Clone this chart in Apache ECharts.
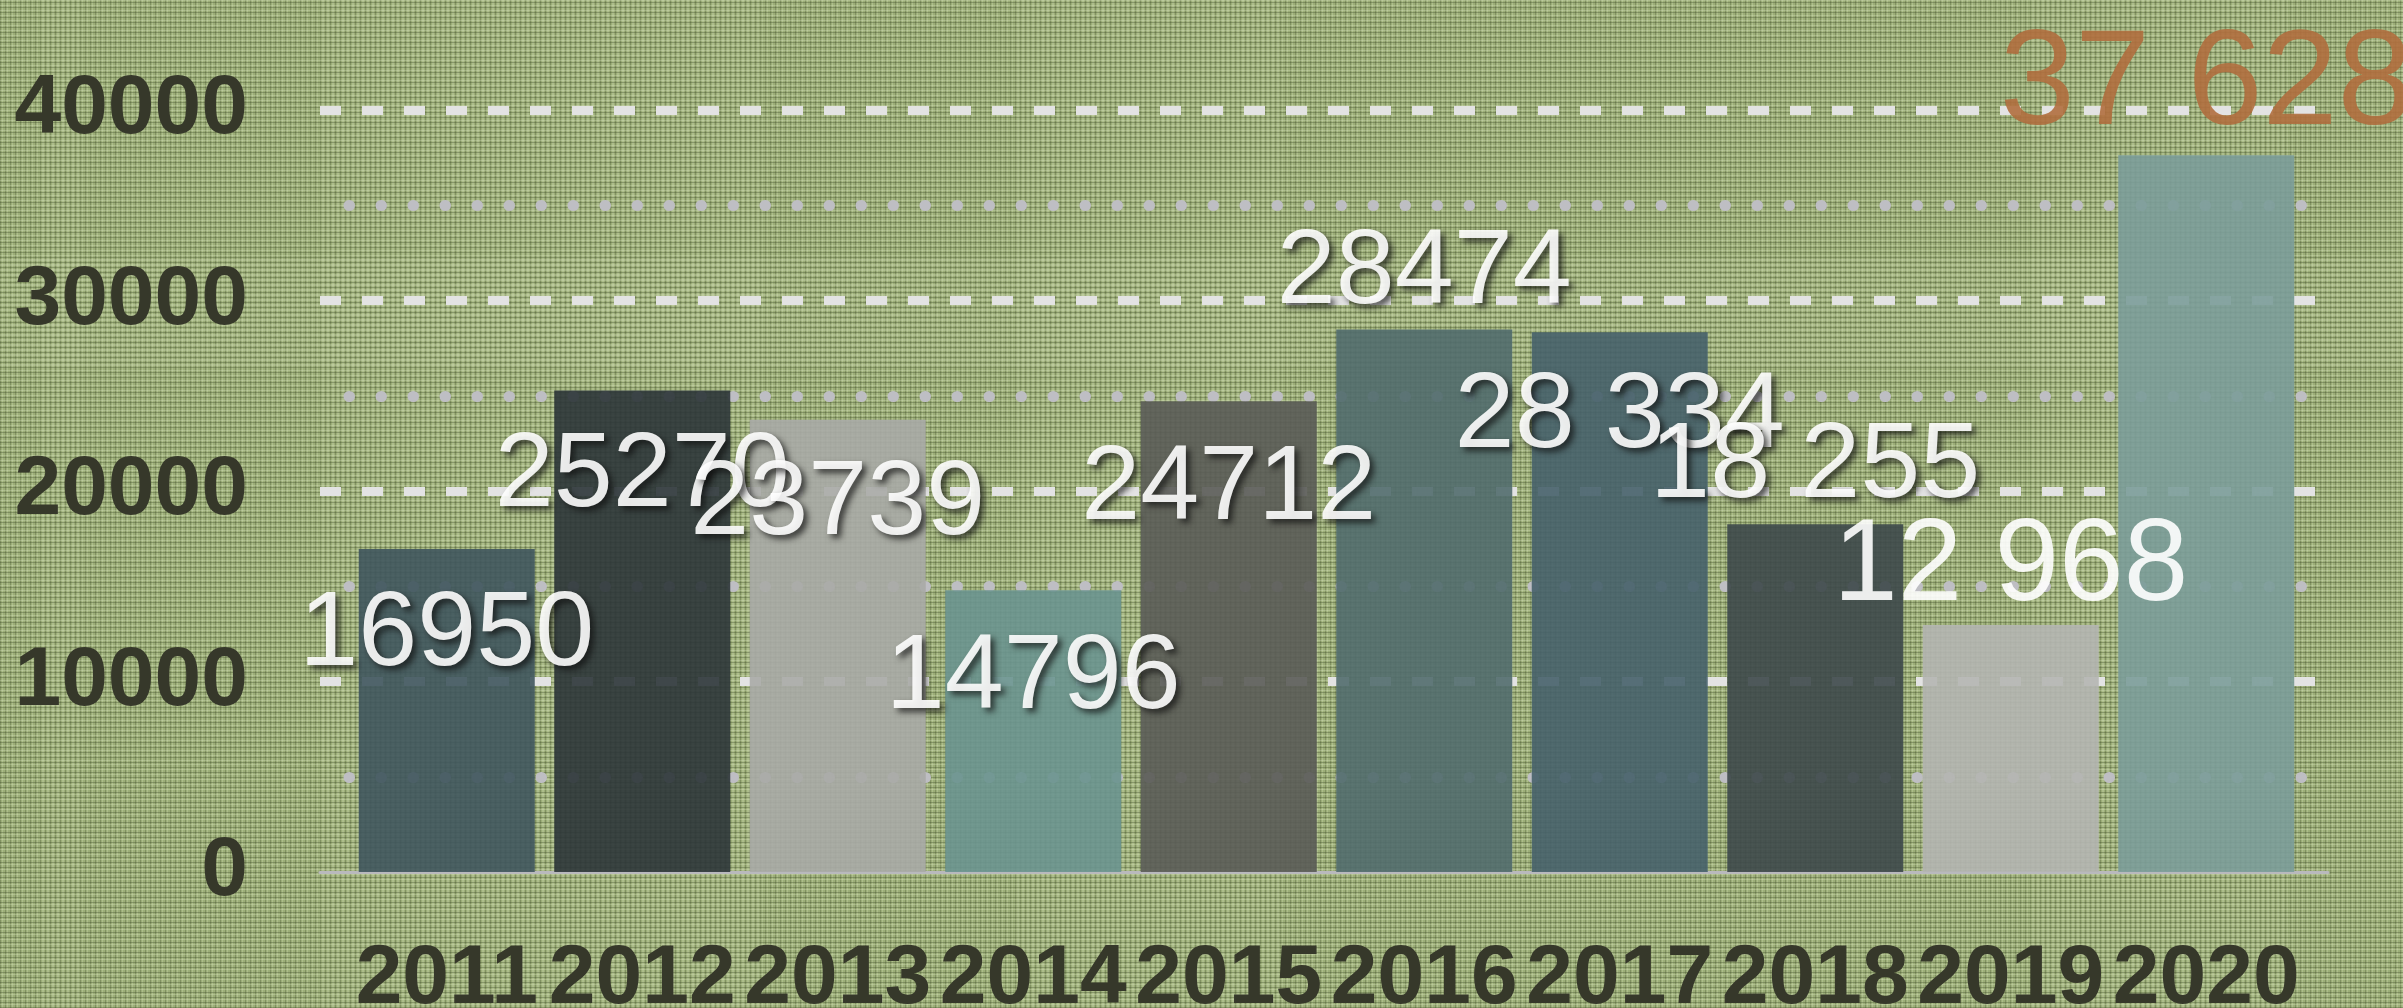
<!DOCTYPE html>
<html>
<head>
<meta charset="utf-8">
<script src="https://cdn.jsdelivr.net/npm/echarts@6/dist/echarts.min.js"></script>
<style>
html,body{margin:0;padding:0;overflow:hidden;}
#chart{
    width:2403px;height:1008px;
    background-color:#9cae78;
    background-image:
        repeating-linear-gradient(0deg, rgba(52,64,32,.30) 0 1px, rgba(0,0,0,0) 1px 2.5px, rgba(226,236,200,.28) 2.5px 3.5px, rgba(0,0,0,0) 3.5px 5px),
        repeating-linear-gradient(90deg, rgba(52,64,32,.26) 0 1px, rgba(0,0,0,0) 1px 2.5px, rgba(226,236,200,.24) 2.5px 3.5px, rgba(0,0,0,0) 3.5px 5px);
}
</style>
</head>
<body>
<div id="chart"></div>
<script>
// data
var years=['2011','2012','2013','2014','2015','2016','2017','2018','2019','2020'];
var sales=[16950,25270,23739,14796,24712,28474,28334,18255,12968,37628];
var salesText=['16950','25270','23739','14796','24712','28474','28 334','18 255','12 968','37 628'];

// looks
var barColors=['#3f555d','#2c3538','#a9aaa6','#6a948f','#5a5b57','#516c6d','#46606a','#3d484a','#b4b5b1','#7b9c99'];
var labelLook=[
    {pos:'insideTop',dist:23,size:106,shadow:true},
    {pos:'insideTop',dist:22,size:106,shadow:true},
    {pos:'insideTop',dist:21,size:106,shadow:true},
    {pos:'insideTop',dist:25,size:106,shadow:true},
    {pos:'insideTop',dist:25,size:106,shadow:true},
    {pos:'top',dist:14,size:106,shadow:true},
    {pos:'insideTop',dist:20,size:108,shadow:true},
    {pos:'top',dist:14,size:108,shadow:true},
    {pos:'top',dist:10,size:116,shadow:false},
    {pos:'top',dist:12,size:135,shadow:false,color:'#b06e3e'}
];
var font='"Liberation Sans", Arial, Helvetica, sans-serif';
var axisText='#36382a';

var chart=echarts.init(document.getElementById('chart'));

var barData=sales.map(function(v,i){
    var l=labelLook[i];
    var label={
        position:l.pos,
        distance:l.dist,
        offset:[0,11],
        fontSize:l.size,
        color:l.color||'#ffffff'
    };
    if(l.shadow){
        label.textShadowColor='rgba(15,15,15,0.8)';
        label.textShadowBlur=6;
        label.textShadowOffsetX=4;
        label.textShadowOffsetY=4;
    }
    return {value:v,itemStyle:{color:barColors[i]},label:label};
});

chart.setOption({
    backgroundColor:'transparent',
    animation:false,
    grid:[
        {left:320,right:75,top:110,bottom:136,outerBoundsMode:'none'},
        {left:349,right:99,top:110,bottom:136,outerBoundsMode:'none'}
    ],
    xAxis:[
        {
            type:'category',gridIndex:0,data:years,
            axisLine:{show:true,lineStyle:{color:'#b9b9bd',width:3}},
            axisTick:{show:false},axisLabel:{show:false},splitLine:{show:false}
        },
        {
            type:'category',gridIndex:1,data:years,
            axisLine:{show:false},axisTick:{show:false},
            axisLabel:{
                interval:0,hideOverlap:false,
                margin:66,fontSize:84,fontWeight:'bold',fontFamily:font,color:axisText
            }
        }
    ],
    yAxis:[
        {
            type:'value',gridIndex:0,min:0,max:40000,interval:10000,
            axisLine:{show:false},axisTick:{show:false},
            axisLabel:{
                margin:72,fontSize:84,fontWeight:'bold',fontFamily:font,color:axisText,
                formatter:function(v){return String(v);}
            },
            splitLine:{
                show:true,showMinLine:false,
                lineStyle:{color:'#e3e3e3',width:9,type:[21,21]}
            }
        },
        {
            type:'value',gridIndex:1,min:0,max:40000,interval:10000,
            axisLine:{show:false},axisTick:{show:false},axisLabel:{show:false},
            splitLine:{show:false},
            minorTick:{show:false,splitNumber:2},
            minorSplitLine:{
                show:true,
                lineStyle:{color:'#bebec3',width:11,type:[0.5,31.5],cap:'round'}
            }
        }
    ],
    series:[{
        type:'bar',
        xAxisIndex:1,yAxisIndex:1,
        barWidth:176,
        itemStyle:{opacity:0.9},
        label:{
            show:true,
            fontFamily:font,
            formatter:function(p){return salesText[p.dataIndex];}
        },
        data:barData
    }]
});
</script>
</body>
</html>
